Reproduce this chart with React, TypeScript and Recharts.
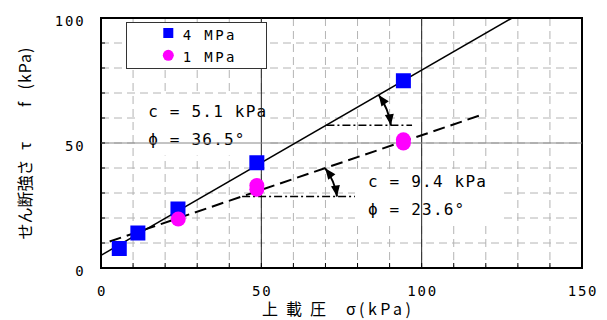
import React from 'react';
import {
  ComposedChart,
  XAxis,
  YAxis,
  CartesianGrid,
  Scatter,
  Line,
  ReferenceLine,
  ReferenceArea,
  Legend,
} from 'recharts';

// ---- axis ticks ----
const xTicks = [0, 10, 20, 30, 40, 50, 60, 70, 80, 90, 100, 110, 120, 130, 140, 150];
const yTicks = [0, 10, 20, 30, 40, 50, 60, 70, 80, 90, 100];
const xLabelTicks = [0, 50, 100, 150];
const yLabelTicks = [0, 50, 100];
const xMajor = [50, 100];
const yMajor = [50];

// ---- measured points ----
const series4Name = '4 MPa';
const sigma4 = [5.7, 11.5, 24.0, 48.6, 94.3];
const tau4 = [7.8, 14.0, 23.6, 42.1, 74.9];

const series1Name = '1 MPa';
const sigma1 = [24.1, 48.6, 48.6, 94.3, 94.3];
const tau1 = [19.6, 33.0, 31.5, 51.3, 50.0];

const legendOrder = [series4Name, series1Name];

// ---- failure envelopes ----
const fit4Sigma = [0, 128.2];
const fit4Tau = [5.1, 100];
const fit1Sigma = [2.7, 119.0];
const fit1Tau = [10.6, 61.4];

// ---- angle annotations ----
const angle4HorizSigma = [70.3, 97.0];
const angle4HorizTau = [57.1, 57.1];
const angle4ArcSigma = [86.6, 90.4];
const angle4ArcTau = [69.2, 57.1];

const angle1HorizSigma = [44.0, 79.2];
const angle1HorizTau = [28.6, 28.6];
const angle1ArcSigma = [69.9, 73.6];
const angle1ArcTau = [39.9, 28.6];

// ---- text boxes ----
const box4Sigma = [11.6, 52.8];
const box4Tau = [45.0, 68.8];
const box4Lines = ['c = 5.1 kPa', 'ϕ = 36.5°'];

const box1Sigma = [79.2, 125.4];
const box1Tau = [18.4, 39.2];
const box1Lines = ['c = 9.4 kPa', 'ϕ = 23.6°'];

// ---- axis titles ----
const xTitleParts = ['上載圧', 'σ', '(kPa)'];
const yTitleParts = ['せん断強さ', 'τ', 'f', '(kPa)'];

const toPts = (xs: number[], ys: number[]) => xs.map((x, i) => ({ x, y: ys[i] }));

const data4 = toPts(sigma4, tau4);
const data1 = toPts(sigma1, tau1);
const fit4 = toPts(fit4Sigma, fit4Tau);
const fit1 = toPts(fit1Sigma, fit1Tau);

const MONO = '"DejaVu Sans Mono", monospace';
const CJK = '"Noto Sans CJK JP", sans-serif';

const SquareShape = (p: any) => (
  <rect x={p.cx - 7.5} y={p.cy - 7.5} width={15} height={15} fill="#0000ff" />
);
const CircleShape = (p: any) => <circle cx={p.cx} cy={p.cy} r={7.5} fill="#ff00ff" />;

const XTick = (p: any) => {
  const { x, y, payload } = p;
  const v = payload.value;
  return (
    <g>
      <line x1={x} y1={y} x2={x} y2={y - 5} stroke="#000" strokeWidth={1} />
      {xLabelTicks.includes(v) && (
        <text x={x + 1} y={y + 28} textAnchor="middle" fontFamily={MONO} fontSize={14} letterSpacing={1.8} fill="#000">
          {v}
        </text>
      )}
    </g>
  );
};

const YTick = (p: any) => {
  const { x, y, payload } = p;
  const v = payload.value;
  return (
    <g>
      <line x1={x} y1={y} x2={x + 4} y2={y} stroke="#000" strokeWidth={1} />
      {yLabelTicks.includes(v) && (
        <text x={x - 15.5} y={y + 7.5} textAnchor="end" fontFamily={MONO} fontSize={14} letterSpacing={1.8} fill="#000">
          {v}
        </text>
      )}
    </g>
  );
};

const arcArrow = (bulge: number) => (p: any) => {
  const { x1, y1, x2, y2 } = p;
  const mx = (x1 + x2) / 2;
  const my = (y1 + y2) / 2;
  const dx = x2 - x1;
  const dy = y2 - y1;
  const len = Math.hypot(dx, dy) || 1;
  const nx = dy / len;
  const ny = -dx / len;
  const cx = mx + nx * bulge;
  const cy = my + ny * bulge;
  const head = (tx: number, ty: number, fx: number, fy: number) => {
    const ux = tx - fx;
    const uy = ty - fy;
    const l = Math.hypot(ux, uy) || 1;
    const ex = ux / l;
    const ey = uy / l;
    const hl = 11;
    const hw = 4.5;
    const bx = tx - ex * hl;
    const by = ty - ey * hl;
    return `M${tx},${ty} L${bx - ey * hw},${by + ex * hw} L${bx + ey * hw},${by - ex * hw} Z`;
  };
  return (
    <g>
      <path d={`M${x1},${y1} Q${cx},${cy} ${x2},${y2}`} fill="none" stroke="#000" strokeWidth={2} />
      <path d={head(x1, y1, cx, cy)} fill="#000" />
      <path d={head(x2, y2, cx, cy)} fill="#000" />
    </g>
  );
};

const boxLabel = (lines: string[], padX: number, padY: number) => (p: any) => {
  const vb = p.viewBox || {};
  const x = vb.x + padX;
  const y = vb.y + padY;
  return (
    <g>
      {lines.map((ln, i) => (
        <text key={i} x={x} y={y + i * 28} fontFamily={MONO} fontSize={16} letterSpacing={1.2} fill="#000">
          {ln}
        </text>
      ))}
    </g>
  );
};

const renderLegend = (props: any) => {
  const payload = (props.payload || [])
    .filter((e: any) => e.type !== 'none' && legendOrder.includes(e.value))
    .sort((a: any, b: any) => legendOrder.indexOf(a.value) - legendOrder.indexOf(b.value));
  return (
    <div
      style={{
        width: 141,
        height: 47,
        boxSizing: 'border-box',
        border: '1px solid #333',
        background: '#fff',
      }}
    >
      <svg width={139} height={45} style={{ display: 'block' }}>
        {payload.map((entry: any, i: number) => {
          const cy = 10 + i * 22.3;
          return (
            <g key={entry.value}>
              {entry.type === 'square' ? (
                <rect x={36.3} y={cy - 5} width={10} height={10} fill="#0000ff" />
              ) : (
                <circle cx={41.3} cy={cy} r={5.5} fill="#ff00ff" />
              )}
              <text x={55.7} y={cy + 6.5} fontFamily={MONO} fontSize={14} letterSpacing={2.4} fill="#000">
                {entry.value}
              </text>
            </g>
          );
        })}
      </svg>
    </div>
  );
};

const XTitle = (p: any) => {
  const vb = p.viewBox || {};
  const c = vb.x + vb.width / 2 - 4.5;
  const y = vb.y + 47;
  return (
    <g fontFamily={CJK} fontSize={16} fill="#000">
      <text x={c - 75} y={y} letterSpacing={8}>{xTitleParts[0]}</text>
      <text x={c + 9} y={y}>{xTitleParts[1]}</text>
      <text x={c + 22} y={y} letterSpacing={3.5}>{xTitleParts[2]}</text>
    </g>
  );
};

const YTitle = (p: any) => {
  const vb = p.viewBox || {};
  const x = vb.x - 10;
  const c = vb.y + vb.height / 2;
  const starts = [96.5, 7, -36, -53.5];
  return (
    <g fontFamily={CJK} fontSize={16} fill="#000">
      {yTitleParts.map((t, i) => {
        const y = c + starts[i];
        return (
          <text key={i} x={x} y={y} letterSpacing={i === 3 ? 1 : 0} transform={`rotate(-90, ${x}, ${y})`}>
            {t}
          </text>
        );
      })}
    </g>
  );
};

export default function App() {
  return (
    <div style={{ width: 599, height: 312 }}>
      <ComposedChart width={599} height={312} margin={{ top: 10, right: 25, bottom: 0, left: 33 }}>
        <CartesianGrid stroke="#b4b4b4" strokeDasharray="8 5" strokeWidth={1} />
        <XAxis
          dataKey="x"
          type="number"
          domain={[0, 150]}
          ticks={xTicks}
          interval={0}
          height={52}
          tickSize={0}
          tickMargin={0}
          tickLine={false}
          axisLine={false}
          tick={XTick}
          allowDataOverflow
          label={{ content: XTitle }}
        />
        <YAxis
          dataKey="y"
          type="number"
          domain={[0, 100]}
          ticks={yTicks}
          interval={0}
          width={60}
          tickSize={0}
          tickMargin={0}
          tickLine={false}
          axisLine={false}
          tick={YTick}
          allowDataOverflow
          label={{ content: YTitle }}
        />
        {xMajor.map((v) => (
          <ReferenceLine key={'mx' + v} x={v} stroke="#222" strokeWidth={1} />
        ))}
        {yMajor.map((v) => (
          <ReferenceLine key={'my' + v} y={v} stroke="#888" strokeWidth={1} />
        ))}
        <ReferenceArea
          x1={box4Sigma[0]}
          x2={box4Sigma[1]}
          y1={box4Tau[0]}
          y2={box4Tau[1]}
          fill="#fff"
          fillOpacity={1}
          stroke="none"
          label={boxLabel(box4Lines, 10, 21)}
        />
        <ReferenceArea
          x1={box1Sigma[0]}
          x2={box1Sigma[1]}
          y1={box1Tau[0]}
          y2={box1Tau[1]}
          fill="#fff"
          fillOpacity={1}
          stroke="none"
          label={boxLabel(box1Lines, 13, 17)}
        />
        <ReferenceLine
          segment={[
            { x: angle4HorizSigma[0], y: angle4HorizTau[0] },
            { x: angle4HorizSigma[1], y: angle4HorizTau[1] },
          ]}
          stroke="#000"
          strokeWidth={1.5}
          strokeDasharray="8 3 2 3"
        />
        <ReferenceLine
          segment={[
            { x: angle1HorizSigma[0], y: angle1HorizTau[0] },
            { x: angle1HorizSigma[1], y: angle1HorizTau[1] },
          ]}
          stroke="#000"
          strokeWidth={1.5}
          strokeDasharray="8 3 2 3"
        />
        <ReferenceLine
          segment={[
            { x: angle4ArcSigma[0], y: angle4ArcTau[0] },
            { x: angle4ArcSigma[1], y: angle4ArcTau[1] },
          ]}
          shape={arcArrow(4)}
        />
        <ReferenceLine
          segment={[
            { x: angle1ArcSigma[0], y: angle1ArcTau[0] },
            { x: angle1ArcSigma[1], y: angle1ArcTau[1] },
          ]}
          shape={arcArrow(4)}
        />
        <Line
          data={fit4}
          dataKey="y"
          type="linear"
          stroke="#000"
          strokeWidth={1.5}
          dot={false}
          activeDot={false}
          legendType="none"
          isAnimationActive={false}
        />
        <Line
          data={fit1}
          dataKey="y"
          type="linear"
          stroke="#000"
          strokeWidth={2}
          strokeDasharray="12 6"
          dot={false}
          activeDot={false}
          legendType="none"
          isAnimationActive={false}
        />
        <Scatter
          name={series4Name}
          data={data4}
          dataKey="y"
          legendType="square"
          fill="#0000ff"
          shape={SquareShape}
          isAnimationActive={false}
        />
        <Scatter
          name={series1Name}
          data={data1}
          dataKey="y"
          legendType="circle"
          fill="#ff00ff"
          shape={CircleShape}
          isAnimationActive={false}
        />
        <ReferenceArea
          x1={0}
          x2={150}
          y1={0}
          y2={100}
          fill="none"
          stroke="#000"
          strokeWidth={2}
          ifOverflow="visible"
        />
        <Legend
          layout="vertical"
          align="center"
          verticalAlign="middle"
          content={renderLegend}
          wrapperStyle={{ position: 'absolute', left: 118, top: 13.7, width: 141, height: 47 }}
        />
      </ComposedChart>
    </div>
  );
}
